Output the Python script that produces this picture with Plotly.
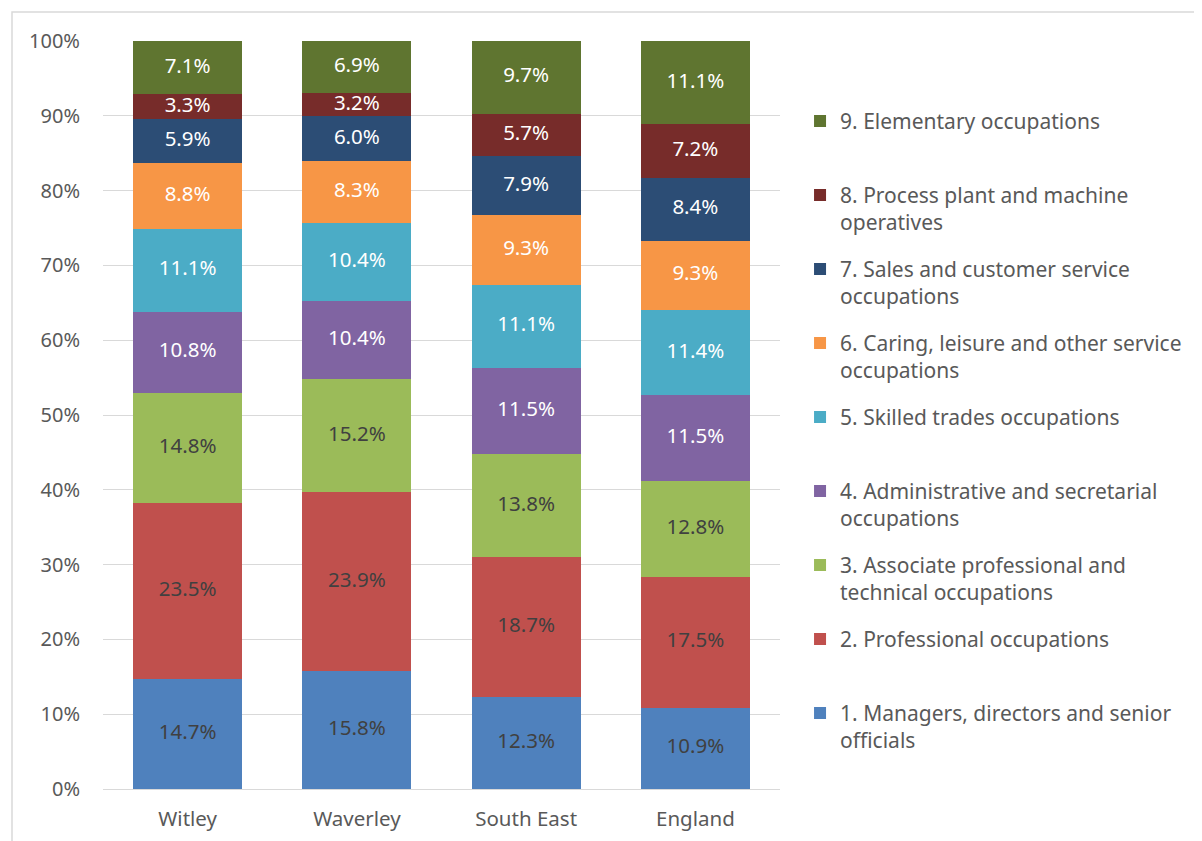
import plotly.graph_objects as go

areas = ["Witley", "Waverley", "South East", "England"]

occupations = [
    "1. Managers, directors and senior<br>officials",
    "2. Professional occupations<br> ",
    "3. Associate professional and<br>technical occupations",
    "4. Administrative and secretarial<br>occupations",
    "5. Skilled trades occupations<br> ",
    "6. Caring, leisure and other service<br>occupations",
    "7. Sales and customer service<br>occupations",
    "8. Process plant and machine<br>operatives",
    "9. Elementary occupations<br> ",
]

managers = [14.7, 15.8, 12.3, 10.9]
professional = [23.5, 23.9, 18.7, 17.5]
associate = [14.8, 15.2, 13.8, 12.8]
administrative = [10.8, 10.4, 11.5, 11.5]
skilled = [11.1, 10.4, 11.1, 11.4]
caring = [8.8, 8.3, 9.3, 9.3]
sales = [5.9, 6.0, 7.9, 8.4]
process = [3.3, 3.2, 5.7, 7.2]
elementary = [7.1, 6.9, 9.7, 11.1]

series = [managers, professional, associate, administrative, skilled,
          caring, sales, process, elementary]
colors = ["#4F81BD", "#C0504D", "#9BBB59", "#8064A2", "#4BACC6",
          "#F79646", "#2C4D75", "#772C2A", "#5F7530"]
text_colors = ["#404040"] * 3 + ["#FFFFFF"] * 6

FONT = "Noto Sans"

# 100% stacking: normalise each column to its total
totals = [sum(s[j] for s in series) for j in range(len(areas))]
norm = [[s[j] / totals[j] * 100 for j in range(len(areas))] for s in series]

fig = go.Figure()
base = [0.0] * len(areas)
mids_all = []
for i, (name, vals) in enumerate(zip(occupations, norm)):
    fig.add_trace(go.Bar(
        x=areas, y=vals, name=name,
        legendgroup=str(i), legendrank=100 - i,
        marker=dict(color=colors[i], line=dict(width=0)),
        hoverinfo="skip",
    ))
    mids_all.append([base[j] + vals[j] / 2 for j in range(len(areas))])
    base = [base[j] + vals[j] for j in range(len(areas))]

for i, raw in enumerate(series):
    fig.add_trace(go.Scatter(
        x=areas, y=mids_all[i], mode="text",
        text=[f"{v:.1f}%" for v in raw],
        textposition="middle center",
        textfont=dict(family=FONT, size=20.5, color=text_colors[i]),
        showlegend=False, hoverinfo="skip", cliponaxis=False,
    ))

fig.update_layout(
    barmode="stack",
    bargap=0.356,
    width=1194, height=833,
    margin=dict(l=95, r=422, t=33, b=52, autoexpand=False),
    paper_bgcolor="white",
    plot_bgcolor="white",
    font=dict(family=FONT, color="#595959", size=18),
    legend=dict(
        tracegroupgap=16.4,
        valign="top",
        xref="paper", yref="paper",
        x=1.0296, xanchor="left",
        y=0.920, yanchor="top",
        font=dict(family=FONT, size=21, color="#595959"),
        bgcolor="rgba(0,0,0,0)",
        itemwidth=30,
    ),
    xaxis=dict(
        showgrid=False, showline=False, ticks="", automargin=False,
        ticklabelstandoff=15,
        tickfont=dict(family=FONT, size=20.5, color="#595959"),
    ),
    yaxis=dict(
        range=[0, 100], dtick=10, ticksuffix="%", automargin=False,
        showgrid=True, gridcolor="#D9D9D9", gridwidth=1,
        zeroline=True, zerolinecolor="#D9D9D9", zerolinewidth=1,
        showline=False, ticks="",
        ticklabelstandoff=22,
        tickfont=dict(family=FONT, size=20, color="#595959"),
    ),
    shapes=[dict(
        type="rect", xref="paper", yref="paper",
        x0=-0.1344, x1=1.8, y0=-0.2, y1=1.0388,
        line=dict(color="#D9D9D9", width=1.5), fillcolor="rgba(0,0,0,0)",
        layer="below",
    )],
)

fig.write_html("out.html")
